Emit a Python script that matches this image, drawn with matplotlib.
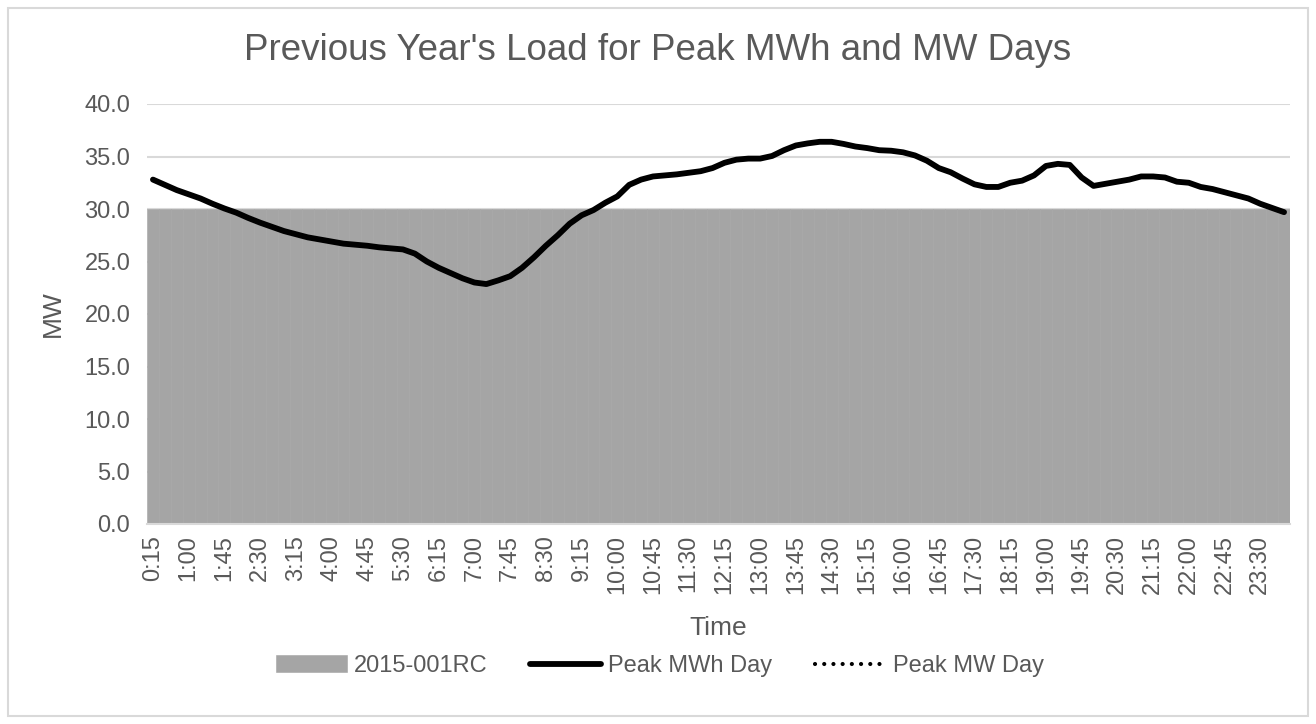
import matplotlib
matplotlib.use("Agg")
import matplotlib.pyplot as plt
from matplotlib.patches import Rectangle

plt.rcParams["font.family"] = ["Liberation Sans", "DejaVu Sans"]

# ---------------- data ----------------
# 15-minute intervals, 0:15 .. 24:00
times = [f"{(15 * (i + 1)) // 60}:{(15 * (i + 1)) % 60:02d}" for i in range(96)]

rc_2015 = [30.0] * 96

peak_mwh_day = [
    32.8, 32.3, 31.8, 31.4, 31.0, 30.5, 30.05, 29.65, 29.15, 28.7,
    28.3, 27.9, 27.6, 27.3, 27.1, 26.9, 26.7, 26.6, 26.5, 26.35,
    26.25, 26.15, 25.75, 25.0, 24.4, 23.9, 23.4, 23.0, 22.85, 23.2,
    23.6, 24.4, 25.4, 26.5, 27.5, 28.6, 29.4, 29.9, 30.6, 31.2,
    32.3, 32.8, 33.1, 33.2, 33.3, 33.45, 33.6, 33.9, 34.4, 34.7,
    34.8, 34.8, 35.05, 35.6, 36.05, 36.25, 36.4, 36.4, 36.2, 35.95,
    35.8, 35.6, 35.55, 35.4, 35.1, 34.6, 33.9, 33.5, 32.9, 32.35,
    32.1, 32.1, 32.5, 32.7, 33.2, 34.1, 34.3, 34.2, 33.0, 32.2,
    32.4, 32.6, 32.8, 33.1, 33.1, 33.0, 32.6, 32.5, 32.1, 31.9,
    31.6, 31.3, 31.0, 30.5, 30.1, 29.7,
]
# peak MW day coincides with the peak MWh day
peak_mw_day = list(peak_mwh_day)

yticks = [0, 5, 10, 15, 20, 25, 30, 35, 40]

TXT = "#595959"
GRID = "#D9D9D9"
FILL = "#A5A5A5"

# ---------------- figure ----------------
W, H = 1316, 724
fig = plt.figure(figsize=(W / 100, H / 100), dpi=100)
ax = fig.add_axes([147 / W, 1 - 524 / H, (1290 - 147) / W, (524 - 104) / H])

x = list(range(len(times)))
ax.bar(x, rc_2015, width=1.0, color=FILL, edgecolor=FILL, linewidth=0.4,
       label="2015-001RC", zorder=2)
ax.plot(x, peak_mw_day, color="black", linestyle=(0, (0.01, 2.2)), linewidth=3,
        dash_capstyle="round", label="Peak MW Day", zorder=3)
ax.plot(x, peak_mwh_day, color="black", linewidth=4.2, solid_capstyle="round",
        label="Peak MWh Day", zorder=4)

ax.set_xlim(-0.5, len(times) - 0.5)
ax.set_ylim(0, 40)
ax.set_yticks(yticks)
ax.set_yticklabels([f"{v:.1f}" for v in yticks], fontsize=17, color=TXT)
ax.set_xticks(x[::3])
ax.set_xticklabels(times[::3], rotation=90, fontsize=17, color=TXT)
ax.tick_params(length=0, pad=8)
ax.tick_params(axis="y", pad=12)
ax.grid(axis="y", color=GRID, linewidth=1.5, zorder=0)
ax.set_axisbelow(True)
for s in ["top", "right", "left"]:
    ax.spines[s].set_visible(False)
ax.spines["bottom"].set_color(GRID)
ax.spines["bottom"].set_linewidth(1.5)

ax.set_ylabel("MW", fontsize=19, color=TXT, labelpad=14)
ax.set_xlabel("Time", fontsize=19, color=TXT, labelpad=16)

fig.text(658 / W, 1 - 50 / H, "Previous Year's Load for Peak MWh and MW Days",
         fontsize=26.5, color=TXT, ha="center", va="center")

h, l = ax.get_legend_handles_labels()
order = [l.index("2015-001RC"), l.index("Peak MWh Day"), l.index("Peak MW Day")]
leg = fig.legend([h[i] for i in order], [l[i] for i in order],
                 loc="center", bbox_to_anchor=(660 / W, 1 - 666 / H), ncol=3,
                 frameon=False, fontsize=17, handlelength=3.0,
                 columnspacing=1.8, handletextpad=0.3)
for t in leg.get_texts():
    t.set_color(TXT)

# chart area border
fig.patches.append(Rectangle((8 / W, 8 / H), (1308 - 8) / W, (716 - 8) / H,
                             transform=fig.transFigure, fill=False,
                             edgecolor=GRID, linewidth=1.5))

fig.savefig("out.png", dpi=100)
